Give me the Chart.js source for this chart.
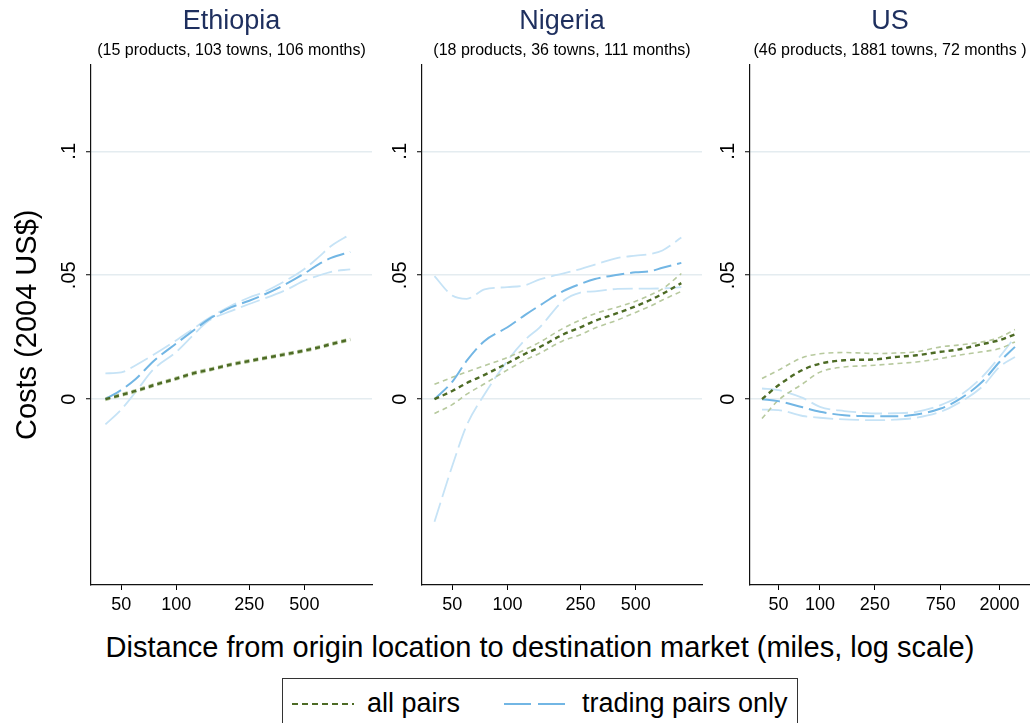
<!DOCTYPE html>
<html>
<head>
<meta charset="utf-8">
<script src="https://cdn.jsdelivr.net/npm/chart.js@4.4.0/dist/chart.umd.min.js"></script>
<style>
  body { margin: 0; background: #fff; width: 1030px; height: 723px; overflow: hidden; position: relative;
         font-family: "Liberation Sans", Arial, Helvetica, sans-serif; }
  canvas { position: absolute; top: 0; }
  #xtitle { position: absolute; left: 40px; width: 1000px; top: 630px; text-align: center;
            font-size: 29px; line-height: 34px; color: #000; white-space: nowrap; }
  #legend { position: absolute; left: 282px; top: 678px; width: 516px; height: 52px;
            border: 1px solid #333; box-sizing: border-box; }
  #legend .item { position: absolute; top: 8px; font-size: 27px; line-height: 32px; white-space: nowrap; }
  #legend svg { position: absolute; top: 22px; }
</style>
</head>
<body>
<canvas id="eth" width="380" height="625" style="left:0px"></canvas>
<canvas id="nga" width="330" height="625" style="left:380px"></canvas>
<canvas id="us" width="320" height="625" style="left:710px"></canvas>
<div id="xtitle">Distance from origin location to destination market (miles, log scale)</div>
<div id="legend">
  <svg width="62" height="6" style="left:9px"><line x1="0" y1="3" x2="62" y2="3" stroke="#4d6b25" stroke-width="2" stroke-dasharray="6 4"/></svg>
  <span class="item" style="left:84px">all pairs</span>
  <svg width="62" height="6" style="left:221px"><line x1="0" y1="3" x2="62" y2="3" stroke="#72b6e4" stroke-width="2" stroke-dasharray="27 7"/></svg>
  <span class="item" style="left:299px">trading pairs only</span>
</div>
<script>
const FONT = '"Liberation Sans", Arial, Helvetica, sans-serif';
const NARROW = '"Liberation Sans Narrow", "Arial Narrow", "Liberation Sans", Arial, sans-serif';

const yTicks = [0, 0.05, 0.1];
const yTickLabels = ['0', '.05', '.1'];
const xTicksAfrica = [50, 100, 250, 500];
const xTicksUS = [50, 100, 250, 750, 2000];

// Ethiopia
const ethX = [41, 50, 60, 75, 100, 125, 150, 200, 250, 300, 400, 500, 600, 700, 890];
const ethAll = [0, 0.0017, 0.0033, 0.0056, 0.0083, 0.0105, 0.0118, 0.014, 0.0154, 0.0165, 0.0182, 0.0196, 0.0209, 0.0222, 0.0241];
const ethAllHi = [0.0005, 0.0022, 0.0038, 0.0061, 0.0088, 0.011, 0.0123, 0.0145, 0.0159, 0.017, 0.0187, 0.0201, 0.0214, 0.0227, 0.0246];
const ethAllLo = [-0.0005, 0.0012, 0.0028, 0.0051, 0.0078, 0.01, 0.0113, 0.0135, 0.0149, 0.016, 0.0177, 0.0191, 0.0204, 0.0217, 0.0236];
const ethTrade = [0, 0.0037, 0.0081, 0.0153, 0.0225, 0.0279, 0.0322, 0.0371, 0.0397, 0.0421, 0.0466, 0.0507, 0.0545, 0.057, 0.0594];
const ethTradeHi = [0.0104, 0.0108, 0.0137, 0.0179, 0.0238, 0.0287, 0.0326, 0.0378, 0.041, 0.0432, 0.048, 0.0525, 0.0574, 0.0618, 0.0665];
const ethTradeLo = [-0.0102, -0.0042, 0.0029, 0.012, 0.0191, 0.0262, 0.0316, 0.0356, 0.0384, 0.0405, 0.0442, 0.0478, 0.0499, 0.0514, 0.0524];

// Nigeria
const ngaX = [40, 50, 60, 75, 100, 125, 150, 200, 250, 300, 400, 500, 600, 700, 887];
const ngaAll = [0, 0.0033, 0.0065, 0.0098, 0.0145, 0.0183, 0.021, 0.026, 0.029, 0.0316, 0.0348, 0.0375, 0.04, 0.0425, 0.0468];
const ngaAllHi = [0.006, 0.0088, 0.011, 0.0135, 0.0168, 0.02, 0.023, 0.0285, 0.032, 0.0345, 0.0372, 0.0395, 0.042, 0.0445, 0.0507];
const ngaAllLo = [-0.0058, -0.0022, 0.002, 0.0062, 0.0118, 0.0158, 0.0185, 0.0235, 0.026, 0.0287, 0.032, 0.035, 0.0375, 0.04, 0.0435];
const ngaTrade = [0, 0.007, 0.0155, 0.0235, 0.029, 0.034, 0.0378, 0.0435, 0.0465, 0.0485, 0.0502, 0.0512, 0.0516, 0.053, 0.055];
const ngaTradeHi = [0.0496, 0.0418, 0.0405, 0.0443, 0.0452, 0.046, 0.0483, 0.0507, 0.0525, 0.0543, 0.057, 0.0579, 0.0586, 0.06, 0.0652];
const ngaTradeLo = [-0.0495, -0.027, -0.0105, 0.002, 0.0155, 0.024, 0.029, 0.0395, 0.043, 0.0435, 0.0445, 0.0446, 0.0446, 0.0447, 0.0452];

// US
const usX = [38, 50, 75, 100, 150, 200, 250, 350, 500, 750, 1000, 1500, 2000, 2590];
const usAll = [0, 0.0056, 0.0118, 0.0143, 0.0157, 0.0159, 0.016, 0.017, 0.0177, 0.0191, 0.02, 0.0222, 0.0238, 0.0261];
const usAllHi = [0.0083, 0.0117, 0.0168, 0.0183, 0.0188, 0.0186, 0.0184, 0.0186, 0.0191, 0.0211, 0.0218, 0.0231, 0.0249, 0.0281];
const usAllLo = [-0.0078, -0.0004, 0.0062, 0.0109, 0.013, 0.0134, 0.0137, 0.0143, 0.015, 0.0164, 0.0177, 0.0191, 0.0204, 0.0231];
const usTrade = [0, -0.0008, -0.0033, -0.0051, -0.0065, -0.0068, -0.0069, -0.0069, -0.0062, -0.0038, -0.0004, 0.007, 0.015, 0.0211];
const usTradeHi = [0.0043, 0.0036, 0.0005, -0.0031, -0.0048, -0.0054, -0.0058, -0.0057, -0.0051, -0.0024, 0.0009, 0.009, 0.017, 0.0251];
const usTradeLo = [-0.0042, -0.0044, -0.0068, -0.0075, -0.0082, -0.0084, -0.0085, -0.0083, -0.0075, -0.0051, -0.0017, 0.005, 0.013, 0.017];

const GREEN = '#4d6b25';
const GREEN_CI = '#b7c99e';
const BLUE = '#72b6e4';
const BLUE_CI = '#c6e3f6';

function series(xs, ys, color, width, dash) {
    return {
        data: xs.map((x, i) => ({ x: x, y: ys[i] })),
        borderColor: color,
        borderWidth: width,
        borderDash: dash,
        pointRadius: 0,
        fill: false,
        cubicInterpolationMode: 'monotone'
    };
}

function makePanel(id, p) {
    new Chart(document.getElementById(id), {
        type: 'line',
        data: {
            datasets: [
                series(p.xs, p.all, GREEN, 2.4, [5, 4]),
                series(p.xs, p.trade, BLUE, 2, [18, 6]),
                series(p.xs, p.allHi, GREEN_CI, 1.6, [5, 4]),
                series(p.xs, p.allLo, GREEN_CI, 1.6, [5, 4]),
                series(p.xs, p.tradeHi, BLUE_CI, 1.8, [20, 6]),
                series(p.xs, p.tradeLo, BLUE_CI, 1.8, [20, 6])
            ]
        },
        options: {
            responsive: false,
            animation: false,
            layout: { padding: { left: 0, right: p.padRight, top: 0, bottom: 0 } },
            plugins: {
                legend: { display: false },
                tooltip: { enabled: false },
                title: {
                    display: true, text: p.name, color: '#1e2f5e', fullSize: false,
                    font: { family: FONT, size: 27, weight: 'normal' },
                    padding: { top: 5, bottom: 0 }
                },
                subtitle: {
                    display: true, text: p.note, color: '#000', fullSize: false,
                    font: { family: FONT, size: 16, weight: 'normal' },
                    padding: { top: 4, bottom: 4 }
                }
            },
            scales: {
                x: {
                    type: 'logarithmic',
                    min: p.xMin,
                    max: p.xMax,
                    afterBuildTicks: s => { s.ticks = p.xTicks.map(v => ({ value: v })); },
                    afterFit: s => { s.height = 40; },
                    ticks: {
                        autoSkip: false, minRotation: 0, maxRotation: 0, padding: 4, color: '#000',
                        font: { family: NARROW, size: 18 },
                        callback: (v, i) => String(p.xTicks[i])
                    },
                    grid: { drawOnChartArea: false, tickLength: 5, tickColor: '#000', tickWidth: 1 },
                    border: { color: '#111', width: 1.2 }
                },
                y: {
                    min: -0.075,
                    max: 0.135,
                    afterBuildTicks: s => { s.ticks = yTicks.map(v => ({ value: v })); },
                    afterFit: s => { s.width = p.yWidth; },
                    ticks: {
                        autoSkip: false, minRotation: 90, maxRotation: 90, crossAlign: 'center', padding: 3,
                        color: '#000', font: { family: FONT, size: 20 },
                        callback: (v, i) => yTickLabels[i]
                    },
                    grid: { color: '#e4ecf0', lineWidth: 1.5, tickLength: 5, tickColor: '#000', tickWidth: 1 },
                    border: { color: '#111', width: 1.2 },
                    title: {
                        display: p.yTitle, text: 'Costs (2004 US$)', color: '#000',
                        font: { family: FONT, size: 29, weight: 'normal' },
                        padding: { top: 11, bottom: 0 }
                    }
                }
            }
        }
    });
}

makePanel('eth', {
    name: 'Ethiopia', note: '(15 products, 103 towns, 106 months)',
    xs: ethX, all: ethAll, allHi: ethAllHi, allLo: ethAllLo,
    trade: ethTrade, tradeHi: ethTradeHi, tradeLo: ethTradeLo,
    xMin: 34.2, xMax: 1170, xTicks: xTicksAfrica, yWidth: 91, padRight: 8, yTitle: true
});
makePanel('nga', {
    name: 'Nigeria', note: '(18 products, 36 towns, 111 months)',
    xs: ngaX, all: ngaAll, allHi: ngaAllHi, allLo: ngaAllLo,
    trade: ngaTrade, tradeHi: ngaTradeHi, tradeLo: ngaTradeLo,
    xMin: 34.2, xMax: 1150, xTicks: xTicksAfrica, yWidth: 42, padRight: 8, yTitle: false
});
makePanel('us', {
    name: 'US', note: '(46 products, 1881 towns, 72 months )',
    xs: usX, all: usAll, allHi: usAllHi, allLo: usAllLo,
    trade: usTrade, tradeHi: usTradeHi, tradeLo: usTradeLo,
    xMin: 31.1, xMax: 3330, xTicks: xTicksUS, yWidth: 40, padRight: 0, yTitle: false
});
</script>
</body>
</html>
